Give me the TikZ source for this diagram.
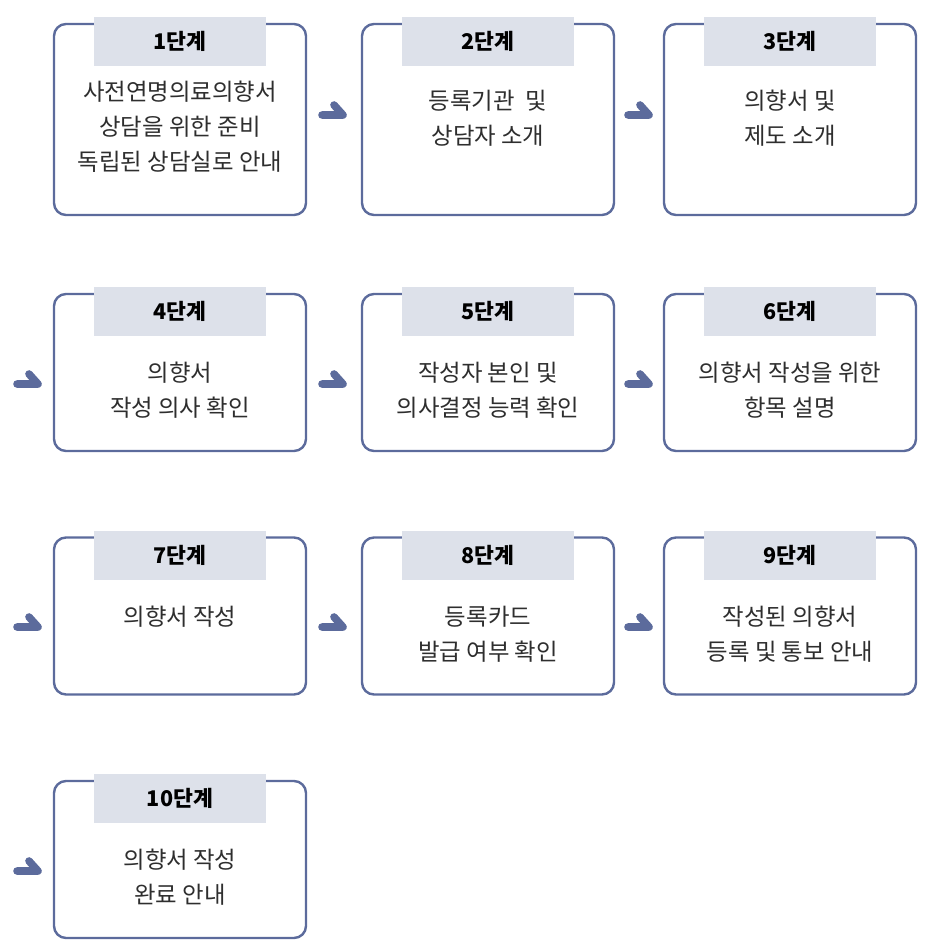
\documentclass[tikz,border=0pt]{standalone}
\usepackage{fontspec}
\setmainfont{Noto Sans CJK KR}
\usepackage{tikz}
\usetikzlibrary{positioning}
\usepackage{xcolor}
\definecolor{stepline}{HTML}{5C6B9C}
\definecolor{tabfill}{HTML}{DDE1EA}
\definecolor{bodytext}{HTML}{2E2E2E}

\begin{document}
\begin{tikzpicture}[x=0.5pt,y=-0.5pt]
    \tikzstyle{stage} = [draw=stepline,line width=1.2pt,rounded corners=6pt,fill=white,minimum width=126pt,inner sep=0pt,outer sep=0pt]
    \tikzstyle{tall} = [minimum height=95.5pt]
    \tikzstyle{short} = [minimum height=78.5pt]
    \tikzstyle{tab} = [fill=tabfill,minimum width=86pt,minimum height=24.5pt,inner sep=0pt,outer sep=0pt,font=\fontsize{10.8}{12}\selectfont\bfseries]
    \tikzstyle{desc} = [align=center,inner sep=0pt,text=bodytext,font=\fontsize{11.7}{17.5}\selectfont]
    \tikzstyle{chevron} = [draw=stepline,line width=3.8pt,line cap=round,line join=round]
    \useasboundingbox (0,0) rectangle (932,950);
    % row 1
    \node[stage,tall] (step1) at (180,119.5) {};
    \node[stage,tall] (step2) at (488,119.5) {};
    \node[stage,tall] (step3) at (790,119.5) {};
    % row 2
    \node[stage,short] (step4) at (180,372.5) {};
    \node[stage,short] (step5) at (488,372.5) {};
    \node[stage,short] (step6) at (790,372.5) {};
    % row 3
    \node[stage,short] (step7) at (180,616) {};
    \node[stage,short] (step8) at (488,616) {};
    \node[stage,short] (step9) at (790,616) {};
    % row 4
    \node[stage,short] (step10) at (180,859.5) {};
    % tabs
    \node[tab] (tab1) [below = -3.5pt of step1.north] {1단계};
    \node[tab] (tab2) [below = -3.5pt of step2.north] {2단계};
    \node[tab] (tab3) [below = -3.5pt of step3.north] {3단계};
    \node[tab] (tab4) [below = -3.5pt of step4.north] {4단계};
    \node[tab] (tab5) [below = -3.5pt of step5.north] {5단계};
    \node[tab] (tab6) [below = -3.5pt of step6.north] {6단계};
    \node[tab] (tab7) [below = -3.5pt of step7.north] {7단계};
    \node[tab] (tab8) [below = -3.5pt of step8.north] {8단계};
    \node[tab] (tab9) [below = -3.5pt of step9.north] {9단계};
    \node[tab] (tab10) [below = -3.5pt of step10.north] {10단계};
    % descriptions
    \node[desc] (desc1) [below = 7.5pt of tab1] {사전연명의료의향서\\상담을 위한 준비\\독립된 상담실로 안내};
    \node[desc] (desc2) [below = 12pt of tab2] {등록기관\ \ 및\\상담자 소개};
    \node[desc] (desc3) [below = 12pt of tab3] {의향서 및\\제도 소개};
    \node[desc] (desc4) [below = 13pt of tab4] {의향서\\작성 의사 확인};
    \node[desc] (desc5) [below = 13pt of tab5] {작성자 본인 및\\의사결정 능력 확인};
    \node[desc] (desc6) [below = 13pt of tab6] {의향서 작성을 위한\\항목 설명};
    \node[desc] (desc7) [below = 13pt of tab7] {의향서 작성};
    \node[desc] (desc8) [below = 13pt of tab8] {등록카드\\발급 여부 확인};
    \node[desc] (desc9) [below = 13pt of tab9] {작성된 의향서\\등록 및 통보 안내};
    \node[desc] (desc10) [below = 13pt of tab10] {의향서 작성\\완료 안내};
    % chevrons
    \coordinate (go12) at (343,115);
    \coordinate (go23) at (649,115);
    \coordinate (go34) at (38,384);
    \coordinate (go45) at (343,384);
    \coordinate (go56) at (649,384);
    \coordinate (go67) at (38,627);
    \coordinate (go78) at (343,627);
    \coordinate (go89) at (649,627);
    \coordinate (go910) at (38,871);
    \draw[chevron] ([xshift=-10.5pt]go12) -- (go12) -- ++(-9,-10);
    \draw[chevron] ([xshift=-10.5pt]go23) -- (go23) -- ++(-9,-10);
    \draw[chevron] ([xshift=-10.5pt]go34) -- (go34) -- ++(-9,-10);
    \draw[chevron] ([xshift=-10.5pt]go45) -- (go45) -- ++(-9,-10);
    \draw[chevron] ([xshift=-10.5pt]go56) -- (go56) -- ++(-9,-10);
    \draw[chevron] ([xshift=-10.5pt]go67) -- (go67) -- ++(-9,-10);
    \draw[chevron] ([xshift=-10.5pt]go78) -- (go78) -- ++(-9,-10);
    \draw[chevron] ([xshift=-10.5pt]go89) -- (go89) -- ++(-9,-10);
    \draw[chevron] ([xshift=-10.5pt]go910) -- (go910) -- ++(-9,-10);
\end{tikzpicture}
\end{document}
